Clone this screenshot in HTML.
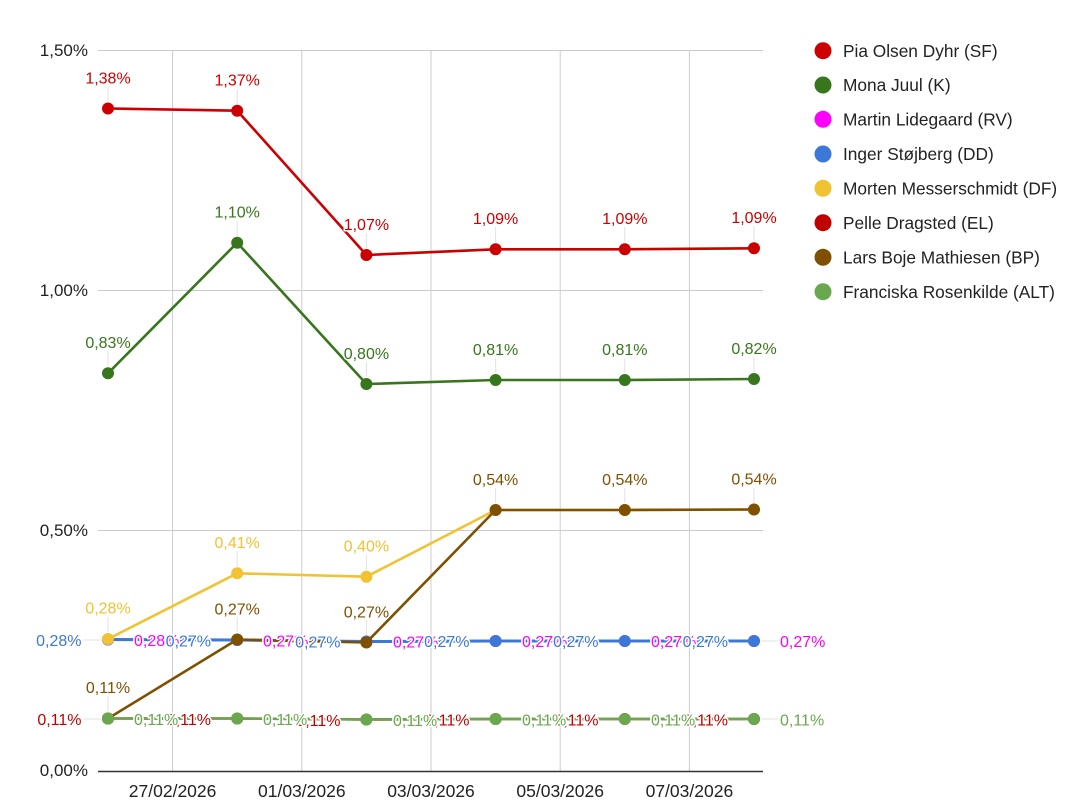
<!DOCTYPE html>
<html><head><meta charset="utf-8"><style>
html,body{margin:0;padding:0;background:#fff;}
svg{display:block;font-family:"Liberation Sans",Arial,sans-serif;}
.ax{font-size:17px;fill:#222;}
.lg{font-size:17.3px;fill:#222;}
.a{font-size:16px;stroke:#fff;stroke-width:3;paint-order:stroke;stroke-linejoin:round;}
.st{stroke:#e2e2e2;stroke-width:1;}
</style></head><body>
<svg width="1080" height="806" viewBox="0 0 1080 806" xmlns="http://www.w3.org/2000/svg">
<rect width="1080" height="806" fill="#fff"/>
<!-- gridlines -->
<g stroke="#cccccc" stroke-width="1">
<line x1="98" y1="50.5" x2="763" y2="50.5"/>
<line x1="98" y1="290.5" x2="763" y2="290.5"/>
<line x1="98" y1="530.5" x2="763" y2="530.5"/>
<line x1="172.6" y1="50" x2="172.6" y2="771"/>
<line x1="301.8" y1="50" x2="301.8" y2="771"/>
<line x1="431" y1="50" x2="431" y2="771"/>
<line x1="560.2" y1="50" x2="560.2" y2="771"/>
<line x1="689.4" y1="50" x2="689.4" y2="771"/>
</g>
<line x1="98" y1="771.5" x2="763" y2="771.5" stroke="#333" stroke-width="1.6"/>
<!-- y axis labels -->
<g class="ax" text-anchor="end">
<text x="88" y="56.1">1,50%</text>
<text x="88" y="296.1">1,00%</text>
<text x="88" y="536.1">0,50%</text>
<text x="88" y="776.1">0,00%</text>
</g>
<!-- x axis labels -->
<g class="ax" text-anchor="middle" style="font-size:17.5px">
<text x="172.6" y="797">27/02/2026</text>
<text x="301.8" y="797">01/03/2026</text>
<text x="431" y="797">03/03/2026</text>
<text x="560.2" y="797">05/03/2026</text>
<text x="689.4" y="797">07/03/2026</text>
</g>
<!-- stems -->
<g class="st">
<line x1="108" y1="86" x2="108" y2="101"/>
<line x1="237.2" y1="89" x2="237.2" y2="104"/>
<line x1="366.4" y1="233" x2="366.4" y2="248"/>
<line x1="495.6" y1="227" x2="495.6" y2="242"/>
<line x1="624.8" y1="227" x2="624.8" y2="242"/>
<line x1="754" y1="226" x2="754" y2="241"/>
<line x1="108" y1="351" x2="108" y2="366"/>
<line x1="237.2" y1="221" x2="237.2" y2="236"/>
<line x1="366.4" y1="362" x2="366.4" y2="377"/>
<line x1="495.6" y1="358" x2="495.6" y2="373"/>
<line x1="624.8" y1="358" x2="624.8" y2="373"/>
<line x1="754" y1="357" x2="754" y2="372"/>
<line x1="108" y1="617" x2="108" y2="632"/>
<line x1="237.2" y1="551" x2="237.2" y2="566"/>
<line x1="366.4" y1="555" x2="366.4" y2="570"/>
<line x1="108" y1="696" x2="108" y2="711"/>
<line x1="237.2" y1="617" x2="237.2" y2="632"/>
<line x1="366.4" y1="620" x2="366.4" y2="635"/>
<line x1="495.6" y1="488" x2="495.6" y2="503"/>
<line x1="624.8" y1="488" x2="624.8" y2="503"/>
<line x1="754" y1="488" x2="754" y2="503"/>
<line x1="84" y1="640" x2="101" y2="640"/>
<line x1="84" y1="719" x2="101" y2="719"/>
<line x1="761" y1="641" x2="778" y2="641"/>
<line x1="761" y1="719" x2="778" y2="719"/>
</g>
<!-- series -->
<g fill="none" stroke-width="2.6" stroke-linejoin="round">
<polyline stroke="#cc0000" points="108,108.5 237.2,110.7 366.4,255 495.6,249.3 624.8,249.3 754,248.3"/>
<g fill="#cc0000"><circle cx="108" cy="108.5" r="6"/><circle cx="237.2" cy="110.7" r="6"/><circle cx="366.4" cy="255" r="6"/><circle cx="495.6" cy="249.3" r="6"/><circle cx="624.8" cy="249.3" r="6"/><circle cx="754" cy="248.3" r="6"/></g>
<polyline stroke="#38761d" points="108,373.3 237.2,242.7 366.4,384 495.6,380 624.8,380 754,379"/>
<g fill="#38761d"><circle cx="108" cy="373.3" r="6"/><circle cx="237.2" cy="242.7" r="6"/><circle cx="366.4" cy="384" r="6"/><circle cx="495.6" cy="380" r="6"/><circle cx="624.8" cy="380" r="6"/><circle cx="754" cy="379" r="6"/></g>
<polyline stroke="#ff00ff" points="108,639.5 237.2,640 366.4,641.5 495.6,641 624.8,641 754,641"/>
<g fill="#ff00ff"><circle cx="108" cy="639.5" r="6"/><circle cx="237.2" cy="640" r="6"/><circle cx="366.4" cy="641.5" r="6"/><circle cx="495.6" cy="641" r="6"/><circle cx="624.8" cy="641" r="6"/><circle cx="754" cy="641" r="6"/></g>
<polyline stroke="#3c78d8" stroke-width="3" points="108,639.5 237.2,640 366.4,641.5 495.6,641 624.8,641 754,641"/>
<g fill="#3c78d8"><circle cx="108" cy="639.5" r="6"/><circle cx="237.2" cy="640" r="6"/><circle cx="366.4" cy="641.5" r="6"/><circle cx="495.6" cy="641" r="6"/><circle cx="624.8" cy="641" r="6"/><circle cx="754" cy="641" r="6"/></g>
<polyline stroke="#f1c232" points="108,639 237.2,573.3 366.4,576.7 495.6,510 624.8,510 754,509.5"/>
<g fill="#f1c232"><circle cx="108" cy="639" r="6"/><circle cx="237.2" cy="573.3" r="6"/><circle cx="366.4" cy="576.7" r="6"/><circle cx="495.6" cy="510" r="6"/><circle cx="624.8" cy="510" r="6"/><circle cx="754" cy="509.5" r="6"/></g>
<polyline stroke="#c00000" points="108,718.5 237.2,718.5 366.4,719.5 495.6,719 624.8,719 754,719"/>
<g fill="#c00000"><circle cx="108" cy="718.5" r="6"/><circle cx="237.2" cy="718.5" r="6"/><circle cx="366.4" cy="719.5" r="6"/><circle cx="495.6" cy="719" r="6"/><circle cx="624.8" cy="719" r="6"/><circle cx="754" cy="719" r="6"/></g>
<polyline stroke="#7f5000" points="108,718.5 237.2,639.5 366.4,642.5 495.6,510 624.8,510 754,509.5"/>
<g fill="#7f5000"><circle cx="108" cy="718.5" r="6"/><circle cx="237.2" cy="639.5" r="6"/><circle cx="366.4" cy="642.5" r="6"/><circle cx="495.6" cy="510" r="6"/><circle cx="624.8" cy="510" r="6"/><circle cx="754" cy="509.5" r="6"/></g>
<polyline stroke="#6aa84f" points="108,718.5 237.2,718.5 366.4,719.5 495.6,719 624.8,719 754,719"/>
<g fill="#6aa84f"><circle cx="108" cy="718.5" r="6"/><circle cx="237.2" cy="718.5" r="6"/><circle cx="366.4" cy="719.5" r="6"/><circle cx="495.6" cy="719" r="6"/><circle cx="624.8" cy="719" r="6"/><circle cx="754" cy="719" r="6"/></g>
</g>
<!-- annotations -->
<g class="a" text-anchor="middle" fill="#cc0000">
<text x="108" y="83.3">1,38%</text>
<text x="237.2" y="85.5">1,37%</text>
<text x="366.4" y="229.8">1,07%</text>
<text x="495.6" y="224.1">1,09%</text>
<text x="624.8" y="224.1">1,09%</text>
<text x="754" y="223.1">1,09%</text>
</g>
<g class="a" text-anchor="middle" fill="#38761d">
<text x="108" y="348.1">0,83%</text>
<text x="237.2" y="217.5">1,10%</text>
<text x="366.4" y="358.8">0,80%</text>
<text x="495.6" y="354.8">0,81%</text>
<text x="624.8" y="354.8">0,81%</text>
<text x="754" y="353.8">0,82%</text>
</g>
<g class="a" text-anchor="start" fill="#ff00ff">
<text x="134" y="645.8">0,28%</text>
<text x="263" y="646.3">0,27%</text>
<text x="393" y="647.3">0,27%</text>
<text x="522" y="646.8">0,27%</text>
<text x="651" y="646.8">0,27%</text>
<text x="780" y="646.8">0,27%</text>
</g>
<g class="a" text-anchor="end" fill="#3c78d8">
<text x="81.5" y="645.8">0,28%</text>
<text x="211" y="646.3">0,27%</text>
<text x="340.5" y="647.3">0,27%</text>
<text x="469.5" y="646.8">0,27%</text>
<text x="598.5" y="646.8">0,27%</text>
<text x="728" y="646.8">0,27%</text>
</g>
<g class="a" text-anchor="middle" fill="#f1c232">
<text x="108" y="613.6">0,28%</text>
<text x="237.2" y="548.1">0,41%</text>
<text x="366.4" y="551.5">0,40%</text>
</g>
<g class="a" text-anchor="end" fill="#c00000">
<text x="81.5" y="724.8">0,11%</text>
<text x="211" y="724.8">0,11%</text>
<text x="340.5" y="725.8">0,11%</text>
<text x="469.5" y="725.3">0,11%</text>
<text x="598.5" y="725.3">0,11%</text>
<text x="728" y="725.3">0,11%</text>
</g>
<g class="a" text-anchor="middle" fill="#7f5000">
<text x="108" y="692.8">0,11%</text>
<text x="237.2" y="614.3">0,27%</text>
<text x="366.4" y="617.3">0,27%</text>
<text x="495.6" y="484.8">0,54%</text>
<text x="624.8" y="484.8">0,54%</text>
<text x="754" y="484.3">0,54%</text>
</g>
<g class="a" text-anchor="start" fill="#6aa84f">
<text x="134" y="724.8">0,11%</text>
<text x="263" y="724.8">0,11%</text>
<text x="393" y="725.8">0,11%</text>
<text x="522" y="725.3">0,11%</text>
<text x="651" y="725.3">0,11%</text>
<text x="780" y="725.3">0,11%</text>
</g>
<!-- legend -->
<g>
<circle cx="823" cy="50.7" r="8.5" fill="#cc0000"/>
<circle cx="823" cy="85" r="8.5" fill="#38761d"/>
<circle cx="823" cy="119.3" r="8.5" fill="#ff00ff"/>
<circle cx="823" cy="154" r="8.5" fill="#3c78d8"/>
<circle cx="823" cy="188.3" r="8.5" fill="#f1c232"/>
<circle cx="823" cy="222.7" r="8.5" fill="#c00000"/>
<circle cx="823" cy="257.3" r="8.5" fill="#7f5000"/>
<circle cx="823" cy="291.7" r="8.5" fill="#6aa84f"/>
</g>
<g class="lg">
<text x="843" y="56.9">Pia Olsen Dyhr (SF)</text>
<text x="843" y="91.2">Mona Juul (K)</text>
<text x="843" y="125.5">Martin Lidegaard (RV)</text>
<text x="843" y="160.2">Inger Støjberg (DD)</text>
<text x="843" y="194.5">Morten Messerschmidt (DF)</text>
<text x="843" y="228.9">Pelle Dragsted (EL)</text>
<text x="843" y="263.5">Lars Boje Mathiesen (BP)</text>
<text x="843" y="297.9">Franciska Rosenkilde (ALT)</text>
</g>
</svg>
</body></html>
